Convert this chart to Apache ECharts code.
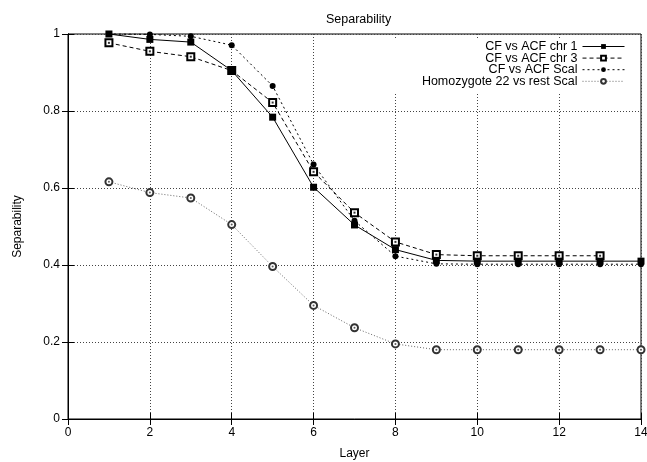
<!DOCTYPE html>
<html>
<head>
<meta charset="utf-8">
<script src="https://cdn.jsdelivr.net/npm/echarts@6/dist/echarts.min.js"></script>
<style>html,body{margin:0;padding:0;background:#fff}#c{width:647px;height:462px}</style>
</head>
<body>
<div id="c"></div>
<script>
var layers = [1, 2, 3, 4, 5, 6, 7, 8, 9, 10, 11, 12, 13, 14];
var chr1 = [1.0, 0.986, 0.979, 0.905, 0.784, 0.602, 0.504, 0.440, 0.412, 0.410, 0.410, 0.410, 0.410, 0.410];
var chr3 = [0.977, 0.955, 0.941, 0.905, 0.822, 0.642, 0.536, 0.460, 0.427, 0.424, 0.424, 0.424, 0.424];
var scal = [1.0, 0.999, 0.994, 0.971, 0.865, 0.661, 0.515, 0.423, 0.403, 0.402, 0.402, 0.402, 0.402, 0.402];
var homo = [0.616, 0.588, 0.574, 0.505, 0.396, 0.295, 0.237, 0.195, 0.180, 0.180, 0.180, 0.180, 0.180, 0.180];
var seriesNames = ['CF vs ACF chr 1', 'CF vs ACF chr 3', 'CF vs ACF Scal', 'Homozygote 22 vs rest Scal'];
var xTicks = [0, 2, 4, 6, 8, 10, 12, 14];
var yTicks = [0, 0.2, 0.4, 0.6, 0.8, 1];

function pairs(vals) { return vals.map(function (v, i) { return [layers[i], v]; }); }

var FONT = 'Liberation Sans';
var chart = echarts.init(document.getElementById('c'), null, {renderer: 'canvas'});
var axisCommon = {
  axisLine: {show: true, lineStyle: {color: '#000', width: 1}},
  axisTick: {show: true, inside: true, length: 6, lineStyle: {color: '#000'}}
};
chart.setOption({
  backgroundColor: '#fff',
  animation: false,
  title: {
    text: 'Separability', left: 321, top: 8,
    textStyle: {fontFamily: FONT, fontSize: 12.5, fontWeight: 'normal', color: '#000'}
  },
  grid: {left: 68, right: 6, top: 34, bottom: 43, show: true, borderColor: '#000', borderWidth: 1,
    backgroundColor: 'transparent', containLabel: false, outerBoundsMode: 'none'},
  legend: {
    orient: 'vertical', right: 16, top: 38, align: 'right',
    itemWidth: 42, itemHeight: 6, itemGap: -1.4,
    backgroundColor: '#fff', padding: [2, 6, 5, 40],
    lineStyle: {width: 1},
    data: seriesNames,
    textStyle: {fontFamily: FONT, fontSize: 12.5, lineHeight: 11, color: '#000'}
  },
  xAxis: [
    Object.assign({
      type: 'value', min: 0, max: 14, interval: 2, position: 'bottom',
      name: 'Layer', nameLocation: 'middle', nameGap: 29,
      nameTextStyle: {fontFamily: FONT, fontSize: 12, color: '#000'},
      axisLabel: {fontFamily: FONT, fontSize: 12, color: '#000', margin: 8,
        formatter: function (v) { return xTicks.indexOf(v) >= 0 ? String(v) : ''; }},
      splitLine: {show: true, lineStyle: {color: '#444', type: [1, 2], width: 1}}
    }, axisCommon),
    Object.assign({
      type: 'value', min: 0, max: 14, interval: 2, position: 'top',
      axisLabel: {show: false}, splitLine: {show: false}
    }, axisCommon)
  ],
  yAxis: [
    Object.assign({
      type: 'value', min: 0, max: 1, interval: 0.2, position: 'left',
      name: 'Separability', nameLocation: 'middle', nameGap: 44, nameRotate: 90,
      nameTextStyle: {fontFamily: FONT, fontSize: 12, color: '#000'},
      axisLabel: {fontFamily: FONT, fontSize: 12, color: '#000', margin: 8,
        formatter: function (v) { var r = Math.round(v * 10) / 10; return yTicks.indexOf(r) >= 0 ? String(r) : ''; }},
      splitLine: {show: true, lineStyle: {color: '#444', type: [1, 2], width: 1}}
    }, axisCommon),
    Object.assign({
      type: 'value', min: 0, max: 1, interval: 0.2, position: 'right',
      axisLabel: {show: false}, splitLine: {show: false}
    }, axisCommon)
  ],
  series: [
    {
      name: seriesNames[0], type: 'line', data: pairs(chr1), clip: false, z: 5,
      symbol: 'rect', symbolSize: 7,
      lineStyle: {color: '#000', width: 1, type: 'solid'},
      itemStyle: {color: '#000', borderColor: '#000', borderWidth: 0}
    },
    {
      name: seriesNames[1], type: 'line', data: pairs(chr3), clip: false, z: 4,
      symbol: 'emptyRect', symbolSize: 7,
      lineStyle: {color: '#000', width: 1, type: [4, 3]},
      itemStyle: {color: '#000', borderColor: '#000', borderWidth: 1}
    },
    {
      name: seriesNames[2], type: 'line', data: pairs(scal), clip: false, z: 3,
      symbol: 'circle', symbolSize: 6,
      lineStyle: {color: '#000', width: 1, type: [2, 3]},
      itemStyle: {color: '#000'}
    },
    {
      name: seriesNames[3], type: 'line', data: pairs(homo), clip: false, z: 2,
      symbol: 'emptyCircle', symbolSize: 7,
      lineStyle: {color: '#666', width: 1, type: [1, 2]},
      itemStyle: {color: '#333', borderColor: '#333', borderWidth: 1}
    },
    {
      type: 'scatter', data: pairs(chr3), clip: false, z: 6, silent: true,
      symbol: 'rect', symbolSize: 2, itemStyle: {color: '#000'}
    },
    {
      type: 'scatter', data: pairs(homo), clip: false, z: 6, silent: true,
      symbol: 'circle', symbolSize: 2, itemStyle: {color: '#333'}
    }
  ]
});
</script>
</body>
</html>
